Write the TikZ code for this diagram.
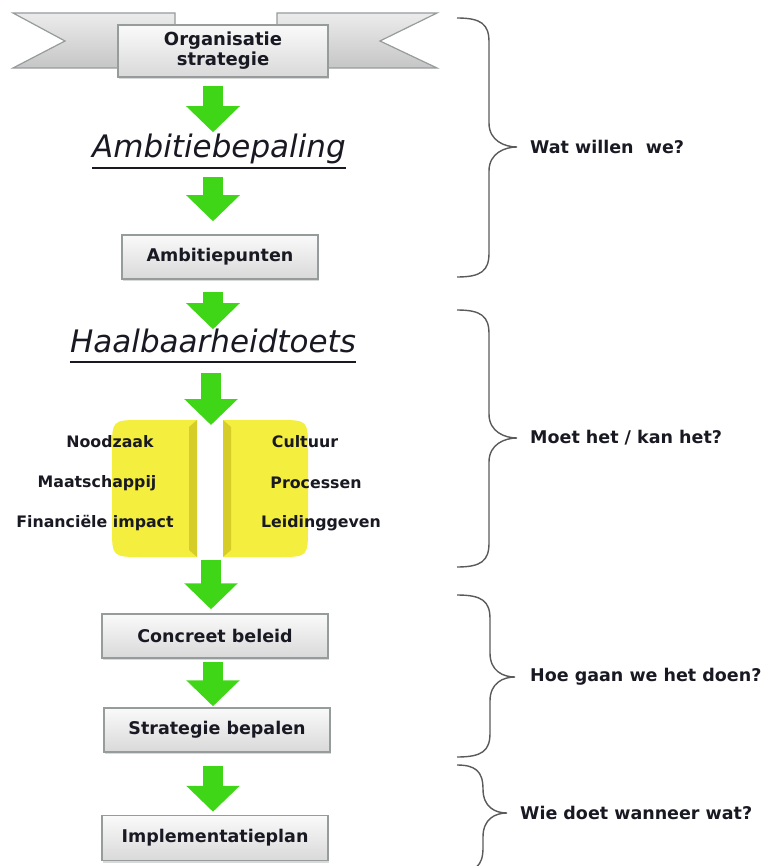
\documentclass[tikz,border=0pt]{standalone}
\usepackage{fontspec}
\setmainfont{DejaVu Sans}
\usetikzlibrary{arrows.meta,shadows}
\definecolor{arrowgreen}{RGB}{64,214,24}
\definecolor{inkdark}{RGB}{25,25,35}
\definecolor{boxedge}{RGB}{150,155,155}
\definecolor{yellowbody}{RGB}{244,238,62}
\definecolor{yellowface}{RGB}{214,205,40}
\definecolor{bracegray}{RGB}{90,90,90}
\tikzset{
  flow/.style={draw=arrowgreen, line width=20pt, -{Triangle[width=52pt,length=26pt]}},
  stepbox/.style={draw=boxedge, line width=1.5pt, top color=gray!4, bottom color=gray!30,
    drop shadow={shadow xshift=1pt,shadow yshift=-2pt,opacity=.3},
    minimum width=226pt, minimum height=44pt, inner sep=0pt,
    font=\fontsize{17.5}{19.5}\selectfont\bfseries, text=inkdark},
  wing/.style={draw=boxedge, line width=1.2pt, top color=gray!15, bottom color=gray!45},
  title/.style={font=\fontsize{31}{34}\selectfont\itshape, inner sep=0pt, text=inkdark, anchor=base},
  tag/.style={font=\fontsize{15.8}{18}\selectfont\bfseries, text=inkdark, inner sep=0pt},
  question/.style={font=\fontsize{17.5}{20}\selectfont\bfseries, text=inkdark, anchor=west, inner sep=0pt},
  bracepen/.style={draw=bracegray, line width=1.4pt},
}
% left x, line x, tip x, top y, tip y, bottom y
\newcommand\sidebrace[6]{%
  \draw[bracepen] (#1,#4) .. controls (#2-8,#4) and (#2,#4+6) .. (#2,#4+24)
    -- (#2,#5-24) .. controls (#2,#5-6) and (#3-12,#5) .. (#3,#5)
    .. controls (#3-12,#5) and (#2,#5+6) .. (#2,#5+24)
    -- (#2,#6-24) .. controls (#2,#6-6) and (#2-8,#6) .. (#1,#6);}
\begin{document}
\begin{tikzpicture}[x=1pt,y=-1pt]
\useasboundingbox (0,0) rectangle (765,866);
\coordinate (spine) at (213,0);

% banner
\draw[wing] (13,13) -- (175,13) -- (175,68) -- (13,68) -- (65,41) -- cycle;
\draw[wing] (437,13) -- (277,13) -- (277,68) -- (437,68) -- (380,41) -- cycle;
\node[stepbox, minimum width=210pt, minimum height=52pt, align=center,
  font=\fontsize{18}{20}\selectfont\bfseries] (orgstrat) at (223,51) {Organisatie\\strategie};

% steps
\node[title] (ambbep) at (219,158) {Ambitiebepaling};
\draw[line width=1.4pt, inkdark] ([yshift=-10pt]ambbep.base west) -- ([yshift=-10pt]ambbep.base east);
\node[stepbox, minimum width=196pt] (ambpunt) at (220,257) {Ambitiepunten};
\node[title] (haalb) at (213,352) {Haalbaarheidtoets};
\draw[line width=1.4pt, inkdark] ([yshift=-10pt]haalb.base west) -- ([yshift=-10pt]haalb.base east);

% toets
\fill[yellowbody] (197,420) -- (197,557) -- (142,557) .. controls (112,557) .. (112,527)
  -- (112,450) .. controls (112,420) .. (142,420) -- cycle;
\fill[yellowface] (189,427) -- (197,420) -- (197,557) -- (189,550) -- cycle;
\fill[yellowbody] (223,420) -- (223,557) -- (278,557) .. controls (308,557) .. (308,527)
  -- (308,450) .. controls (308,420) .. (278,420) -- cycle;
\fill[yellowface] (231,427) -- (223,420) -- (223,557) -- (231,550) -- cycle;
\coordinate (gaptop) at (211,420);
\coordinate (gapbot) at (211,557);
\node[tag] (noodzaak) at (110,442) {Noodzaak};
\node[tag] (maatsch) at (97,483) {Maatschappij};
\node[tag] (financ) at (95,523) {Financiële impact};
\node[tag] (cultuur) at (305,442) {Cultuur};
\node[tag] (process) at (316,483) {Processen};
\node[tag] (leiding) at (321,523) {Leidinggeven};

\node[stepbox] (concreet) at (215,636) {Concreet beleid};
\node[stepbox] (strategie) at (217,730) {Strategie bepalen};
\node[stepbox, minimum height=45pt] (implplan) at (215,838) {Implementatieplan};

% arrows
\draw[flow, shorten <=8pt, shorten >=2pt] (orgstrat.south -| spine) -- (ambbep.north -| spine);
\draw[flow, shorten <=12pt, shorten >=13pt] (ambbep.south -| spine) -- (ambpunt.north -| spine);
\draw[flow, shorten <=12pt, shorten >=-1pt] (ambpunt.south -| spine) -- (haalb.north -| spine);
\draw[flow, shorten <=20pt, shorten >=-5pt] (haalb.south -| gaptop) -- (gaptop);
\draw[flow, shorten <=3pt, shorten >=4pt] (gapbot) -- (concreet.north -| gapbot);
\draw[flow, shorten <=3pt, shorten >=1pt] (concreet.south -| spine) -- (strategie.north -| spine);
\draw[flow, shorten <=13pt, shorten >=3pt] (strategie.south -| spine) -- (implplan.north -| spine);

% questions
\sidebrace{457}{489}{517}{18}{147}{277}
\sidebrace{457}{489}{517}{310}{438}{567}
\sidebrace{457}{490}{515}{595}{677}{757}
\sidebrace{457}{483}{507}{765}{813}{872}
\node[question] (wat) at (530,147) {Wat willen\ \ we?};
\node[question] (moet) at (530,438) {Moet het\ /\ kan het?};
\node[question] (hoe) at (530,677) {Hoe gaan we het doen?};
\node[question] (wie) at (520,813) {Wie doet wanneer wat?};
\end{tikzpicture}
\end{document}
